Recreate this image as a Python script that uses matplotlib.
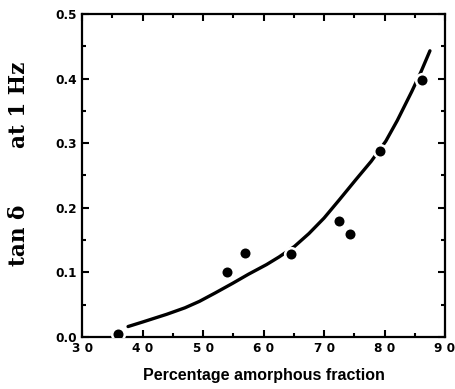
import matplotlib
matplotlib.use('Agg')
import matplotlib.pyplot as plt
from matplotlib.ticker import MultipleLocator

# measured loss tangent vs amorphous content
amorphous_pct = [36.0, 54.0, 57.0, 64.6, 72.5, 74.3, 79.3, 86.2]
tan_delta = [0.005, 0.100, 0.130, 0.128, 0.180, 0.160, 0.288, 0.398]

# fitted trend line
fit_x = [37.6, 40.0, 44.0, 47.0, 49.4, 52.0, 54.9, 57.5, 60.5, 62.6, 65.1, 67.5,
         70.0, 72.5, 75.3, 77.8, 80.2, 82.1, 84.5, 86.0, 87.5]
fit_y = [0.016, 0.023, 0.035, 0.045, 0.055, 0.068, 0.083, 0.097, 0.112, 0.124, 0.140, 0.160,
         0.184, 0.212, 0.244, 0.272, 0.303, 0.335, 0.380, 0.410, 0.443]

x_ticks = [30, 40, 50, 60, 70, 80, 90]
x_tick_labels = ["3 0", "4 0", "5 0", "6 0", "7 0", "8 0", "9 0"]
y_ticks = [0.0, 0.1, 0.2, 0.3, 0.4, 0.5]
y_tick_labels = ["0.0", "0.1", "0.2", "0.3", "0.4", "0.5"]

fig = plt.figure(figsize=(4.56, 3.89), dpi=100)
ax = fig.add_axes([0.18, 0.134, 0.796, 0.830])

ax.plot(fit_x, fit_y, color='black', lw=2.4, solid_capstyle='round',
        solid_joinstyle='round', zorder=2)
# white halo so the line breaks around the dots
ax.scatter(amorphous_pct, tan_delta, s=120, color='white', zorder=3, linewidths=0)
ax.scatter(amorphous_pct, tan_delta, s=52, color='black', zorder=4, linewidths=0)

ax.set_xlim(30, 90)
ax.set_ylim(0, 0.5)
ax.set_xticks(x_ticks)
ax.set_xticklabels(x_tick_labels)
ax.set_yticks(y_ticks)
ax.set_yticklabels(y_tick_labels)
ax.xaxis.set_minor_locator(MultipleLocator(5))
ax.yaxis.set_minor_locator(MultipleLocator(0.05))

ax.tick_params(which='both', direction='in', top=True, right=True, width=1.5)
ax.tick_params(which='major', length=5, pad=4)
ax.tick_params(which='minor', length=3)
for lab in ax.get_xticklabels() + ax.get_yticklabels():
    lab.set_family('DejaVu Sans')
    lab.set_fontweight('bold')
    lab.set_fontsize(8.7)
for sp in ax.spines.values():
    sp.set_linewidth(1.6)

ax.set_xlabel("Percentage amorphous fraction", family='Liberation Sans',
              fontweight='bold', fontsize=11.5, labelpad=9)

# y label set in two pieces, as on the original axis
fig.text(0.042, 0.730, "at 1 Hz", rotation=90, ha='center', va='center',
         family='DejaVu Serif', fontweight='bold', fontsize=15.5)
fig.text(0.042, 0.396, "tan \u03b4", rotation=90, ha='center', va='center',
         family='DejaVu Serif', fontweight='bold', fontsize=15.5)

plt.savefig("out.png", dpi=100)
